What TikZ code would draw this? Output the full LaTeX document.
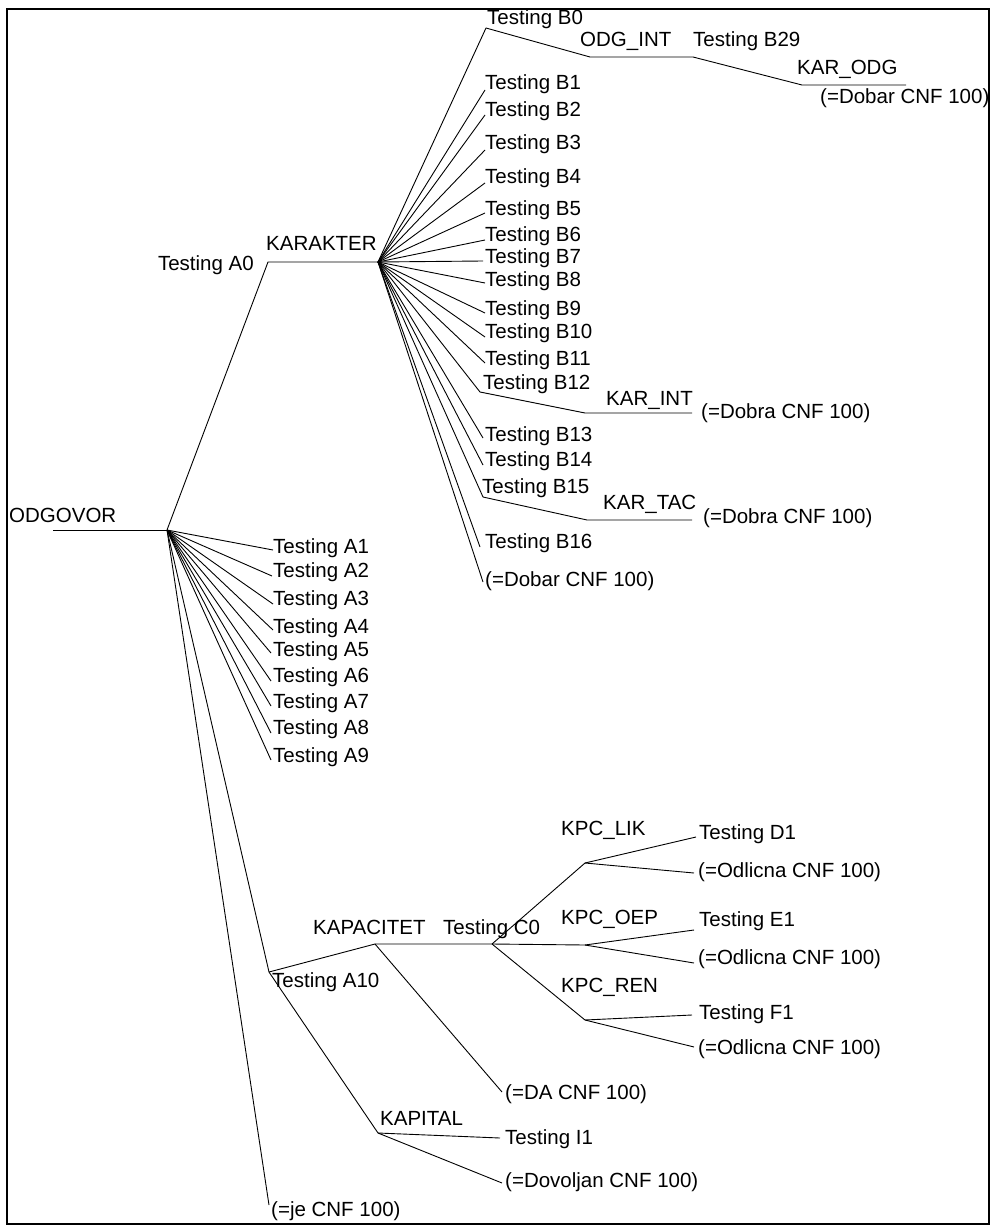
\documentclass[tikz,border=0pt]{standalone}
\usepackage{fontspec}
\setmainfont{Liberation Sans}
\begin{document}
\begin{tikzpicture}[x=1pt,y=-1pt,
  lbl/.style={anchor=base west, inner sep=0pt, font=\fontsize{20.5}{24}\selectfont},
  lblr/.style={anchor=base east, inner sep=0pt, font=\fontsize{20.5}{24}\selectfont},
  edge/.style={line width=0.9pt, line join=round}]
\useasboundingbox (0,0) rectangle (991,1225);
\draw[line width=2.2pt] (7,9) rectangle (989,1224);

% ---------- root ----------
\coordinate (root) at (167,530);
\coordinate (odgL) at (53,530);
\node[lbl] (tODG) at (9,522) {ODGOVOR};
\draw[edge] (odgL) -- (root);

% ---------- A0 / KARAKTER ----------
\coordinate (eA0) at (268,262);
\coordinate (kar) at (378,262);
\node[lblr] (tA0) at (254,270) {Testing A0};
\node[lbl] (tKAR) at (266,250) {KARAKTER};
\draw[edge] (root) -- (eA0) -- (kar);

% ---------- A1..A9 ----------
\foreach \n/\x/\y/\c in {1/273/550/546, 2/272/576/570, 3/273/604/598, 4/273/630/626, 5/271/653/649, 6/271/681/675, 7/271/706/701, 8/271/733/727, 9/271/760/755}{
  \coordinate (eA\n) at (\x,\y);
  \node[lbl] (tA\n) at (273,\c+7) {Testing A\n};
  \draw[edge] (root) -- (eA\n);
}

% ---------- B0 chain ----------
\coordinate (eB0) at (486,28);
\node[lbl] (tB0) at (487,25) {Testing B0};
\coordinate (odgiS) at (590,57);
\coordinate (odgiE) at (693,57);
\node[lbl] (tODGI) at (580,47) {ODG\_INT};
\node[lbl] (tB29) at (693,47) {Testing B29};
\coordinate (karoS) at (802,85);
\coordinate (karoE) at (906,85);
\node[lbl] (tKARO) at (797,75) {KAR\_ODG};
\node[lbl] (tDob1) at (820,104) {(=Dobar CNF 100)};
\draw[edge] (kar) -- (eB0) -- (odgiS) -- (odgiE) -- (karoS) -- (karoE);

% ---------- B1..B16 ----------
\foreach \n/\x/\y/\c in {1/485/90/83, 2/485/115/110, 3/485/150/143, 4/485/183/177, 5/485/213/208, 6/485/240/234, 7/483/261/256, 8/485/283/279, 9/485/313/308, 10/485/337/331, 11/485/363/358, 13/483/438/434, 14/483/465/459, 16/480/547/541}{
  \coordinate (eB\n) at (\x,\y);
  \node[lbl] (tB\n) at (485,\c+7) {Testing B\n};
  \draw[edge] (kar) -- (eB\n);
}

% B12 -> KAR_INT
\coordinate (eB12) at (480,392);
\node[lbl] (tB12) at (483,389) {Testing B12};
\coordinate (kiS) at (585,413);
\coordinate (kiE) at (692,413);
\node[lbl] (tKI) at (606,405) {KAR\_INT};
\node[lbl] (tDobra1) at (701,418) {(=Dobra CNF 100)};
\draw[edge] (kar) -- (eB12) -- (kiS) -- (kiE);

% B15 -> KAR_TAC
\coordinate (eB15) at (483,497);
\node[lbl] (tB15) at (482,493) {Testing B15};
\coordinate (ktS) at (587,520);
\coordinate (ktE) at (692,520);
\node[lbl] (tKT) at (603,509) {KAR\_TAC};
\node[lbl] (tDobra2) at (703,523) {(=Dobra CNF 100)};
\draw[edge] (kar) -- (eB15) -- (ktS) -- (ktE);

% Dobar default
\coordinate (eDob2) at (483,582);
\node[lbl] (tDob2) at (485,586) {(=Dobar CNF 100)};
\draw[edge] (kar) -- (eDob2);

% ---------- A10 subtree ----------
\coordinate (eA10) at (269,972);
\node[lbl] (tA10) at (272,987) {Testing A10};
\draw[edge] (root) -- (eA10);

\coordinate (kapS) at (375,944);
\coordinate (c0) at (492,944);
\node[lbl] (tKAP) at (313,934) {KAPACITET};
\node[lbl] (tC0) at (443,934) {Testing C0};
\draw[edge] (eA10) -- (kapS) -- (c0);

\coordinate (lik) at (585,863);
\coordinate (oep) at (585,945);
\coordinate (ren) at (585,1020);
\node[lbl] (tLIK) at (561,835) {KPC\_LIK};
\node[lbl] (tOEP) at (561,924) {KPC\_OEP};
\node[lbl] (tREN) at (561,992) {KPC\_REN};
\draw[edge] (c0) -- (lik);
\draw[edge] (c0) -- (oep);
\draw[edge] (c0) -- (ren);

\coordinate (eD1) at (696,837);
\coordinate (eOd1) at (694,873);
\node[lbl] (tD1) at (699,839) {Testing D1};
\node[lbl] (tOd1) at (698,877) {(=Odlicna CNF 100)};
\draw[edge] (lik) -- (eD1);
\draw[edge] (lik) -- (eOd1);

\coordinate (eE1) at (694,930);
\coordinate (eOd2) at (694,963);
\node[lbl] (tE1) at (699,926) {Testing E1};
\node[lbl] (tOd2) at (698,964) {(=Odlicna CNF 100)};
\draw[edge] (oep) -- (eE1);
\draw[edge] (oep) -- (eOd2);

\coordinate (eF1) at (692,1015);
\coordinate (eOd3) at (694,1047);
\node[lbl] (tF1) at (699,1019) {Testing F1};
\node[lbl] (tOd3) at (698,1054) {(=Odlicna CNF 100)};
\draw[edge] (ren) -- (eF1);
\draw[edge] (ren) -- (eOd3);

\coordinate (eDA) at (502,1092);
\node[lbl] (tDA) at (505,1099) {(=DA CNF 100)};
\draw[edge] (kapS) -- (eDA);

\coordinate (kpl) at (378,1133);
\node[lbl] (tKPL) at (380,1125) {KAPITAL};
\draw[edge] (eA10) -- (kpl);
\coordinate (eI1) at (500,1138);
\node[lbl] (tI1) at (505,1144) {Testing I1};
\coordinate (eDov) at (502,1183);
\node[lbl] (tDov) at (505,1187) {(=Dovoljan CNF 100)};
\draw[edge] (kpl) -- (eI1);
\draw[edge] (kpl) -- (eDov);

% ---------- je ----------
\coordinate (eje) at (269,1205);
\node[lbl] (tje) at (271,1216) {(=je CNF 100)};
\draw[edge] (root) -- (eje);
\end{tikzpicture}
\end{document}
